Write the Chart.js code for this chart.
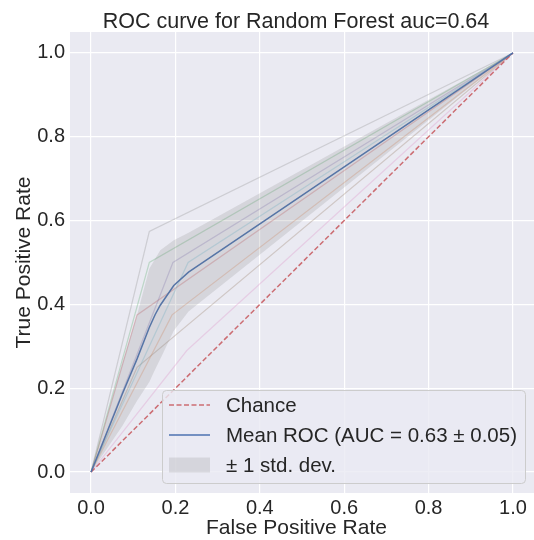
<!DOCTYPE html>
<html>
<head>
<meta charset="utf-8">
<script src="https://cdn.jsdelivr.net/npm/chart.js@4.4.1/dist/chart.umd.min.js"></script>
<style>
  html, body { margin: 0; padding: 0; background: #ffffff; }
  #roc { display: block; }
</style>
</head>
<body>
<canvas id="roc" width="534" height="540"></canvas>
<script>
// Dados
const tituloGrafico = 'ROC curve for Random Forest auc=0.64';
const tituloX = 'False Positive Rate';
const tituloY = 'True Positive Rate';
const tickVals = [0, 0.2, 0.4, 0.6, 0.8, 1.0];

// cada fold: (0,0) -> ponto de quebra -> (1,1)
const foldKinkFpr = [0.138, 0.138, 0.194, 0.230, 0.109, 0.192, 0.109, 0.227];
const foldKinkTpr = [0.574, 0.500, 0.500, 0.500, 0.375, 0.375, 0.250, 0.290];

const chanceFpr = [0, 1];
const chanceTpr = [0, 1];

const meanFpr = [0, 0.074, 0.109, 0.138, 0.152, 0.164, 0.196, 0.231, 1];
const meanTpr = [0, 0.186, 0.270, 0.345, 0.376, 0.398, 0.445, 0.477, 1];
const tprUpper = [0, 0.260, 0.375, 0.485, 0.509, 0.529, 0.553, 0.571, 1];
const tprLower = [0, 0.110, 0.170, 0.215, 0.245, 0.270, 0.337, 0.383, 1];

const labelChance = 'Chance';
const labelMean = 'Mean ROC (AUC = 0.63 \u00b1 0.05)';
const labelStd = '\u00b1 1 std. dev.';

// paleta seaborn "deep" com alpha 0.3 para os folds
const coresFold = [
    'rgba(140,140,140,0.3)', 'rgba(85,168,104,0.3)', 'rgba(129,114,179,0.3)', 'rgba(100,181,205,0.3)',
    'rgba(196,78,82,0.3)', 'rgba(221,132,82,0.3)', 'rgba(147,120,96,0.3)', 'rgba(218,139,195,0.3)'
];

const FONTE = "'Liberation Sans', Arial, sans-serif";
const TEXTO = '#262626';

function pontos(xs, ys) {
    return xs.map((x, i) => ({ x: x, y: ys[i] }));
}

const datasets = [];

// banda +-1 desvio (superior preenche até a inferior)
datasets.push({
    label: labelStd,
    data: pontos(meanFpr, tprUpper),
    borderWidth: 0,
    pointRadius: 0,
    backgroundColor: 'rgba(128,128,128,0.2)',
    fill: 1,
    order: 0
});
datasets.push({
    label: 'lower',
    data: pontos(meanFpr, tprLower),
    borderWidth: 0,
    pointRadius: 0,
    fill: false,
    order: 0
});
datasets.push({
    label: labelMean,
    data: pontos(meanFpr, meanTpr),
    borderColor: '#4C72B0',
    borderWidth: 1.5,
    pointRadius: 0,
    fill: false,
    order: 1
});
datasets.push({
    label: labelChance,
    data: pontos(chanceFpr, chanceTpr),
    borderColor: 'rgba(196,78,82,0.8)',
    borderWidth: 1.5,
    borderDash: [5, 2.5],
    pointRadius: 0,
    fill: false,
    order: 2
});
foldKinkFpr.forEach((fx, i) => {
    datasets.push({
        label: 'fold ' + i,
        data: pontos([0, fx, 1], [0, foldKinkTpr[i], 1]),
        borderColor: coresFold[i],
        borderWidth: 1.2,
        pointRadius: 0,
        fill: false,
        order: 3
    });
});

// fundo cinza-azulado da área do gráfico (estilo seaborn darkgrid) + títulos
const fundoPlugin = {
    id: 'fundo',
    beforeDraw(chart) {
        const { ctx, chartArea: a } = chart;
        ctx.save();
        ctx.fillStyle = '#EAEAF2';
        ctx.fillRect(a.left, a.top, a.right - a.left, a.bottom - a.top);
        ctx.fillStyle = TEXTO;
        ctx.textAlign = 'center';
        ctx.textBaseline = 'alphabetic';
        ctx.font = '21.5px ' + FONTE;
        ctx.fillText(tituloGrafico, 296, 28);
        ctx.font = '21px ' + FONTE;
        ctx.fillText(tituloX, 296.5, 534);
        ctx.restore();
    }
};

// legenda desenhada dentro da área, canto inferior direito
const legendaPlugin = {
    id: 'legendaInterna',
    afterDraw(chart) {
        const ctx = chart.ctx;
        const x0 = 162, y0 = 390, w = 363, h = 93, r = 4;
        ctx.save();
        ctx.beginPath();
        ctx.roundRect(x0 + 0.5, y0 + 0.5, w, h, r);
        ctx.fillStyle = 'rgba(234,234,242,0.8)';
        ctx.fill();
        ctx.strokeStyle = '#cccccc';
        ctx.lineWidth = 1;
        ctx.stroke();

        const itens = [
            { ds: datasets[3], tipo: 'linha' },
            { ds: datasets[2], tipo: 'linha' },
            { ds: datasets[0], tipo: 'caixa' }
        ];
        ctx.font = '20.5px ' + FONTE;
        ctx.textBaseline = 'middle';
        itens.forEach((it, i) => {
            const yc = 405 + i * 30;
            if (it.tipo === 'linha') {
                ctx.beginPath();
                ctx.strokeStyle = it.ds.borderColor;
                ctx.lineWidth = it.ds.borderWidth;
                ctx.setLineDash(it.ds.borderDash || []);
                ctx.moveTo(169, yc);
                ctx.lineTo(210, yc);
                ctx.stroke();
                ctx.setLineDash([]);
            } else {
                ctx.fillStyle = it.ds.backgroundColor;
                ctx.fillRect(169, yc - 7.5, 41, 15);
            }
            ctx.fillStyle = TEXTO;
            ctx.fillText(it.ds.label, 226, yc + 1);
        });
        ctx.restore();
    }
};

function eixo(largura, altura) {
    return {
        type: 'linear',
        min: -0.05,
        max: 1.05,
        border: { display: false },
        grid: { color: '#ffffff', lineWidth: 1.2, drawTicks: false },
        ticks: {
            color: TEXTO,
            font: { family: FONTE, size: 20 },
            padding: 5,
            callback: v => v.toFixed(1)
        },
        afterBuildTicks(scale) {
            scale.ticks = tickVals.map(v => ({ value: v }));
        },
        afterFit(scale) {
            if (largura) scale.width = largura;
            if (altura) scale.height = altura;
        }
    };
}

const escalaX = eixo(null, 47);
escalaX.ticks.padding = 3;
const escalaY = eixo(70, null);
escalaY.title = {
    display: true,
    text: tituloY,
    color: TEXTO,
    font: { family: FONTE, size: 21 },
    padding: { top: 12, bottom: 0 }
};

new Chart(document.getElementById('roc'), {
    type: 'line',
    data: { datasets: datasets },
    options: {
        responsive: false,
        animation: false,
        devicePixelRatio: 1,
        layout: { padding: { left: 0, right: 0, top: 32, bottom: 0 } },
        elements: { line: { tension: 0 } },
        plugins: {
            legend: { display: false },
            tooltip: { enabled: false },
            title: { display: false }
        },
        scales: { x: escalaX, y: escalaY }
    },
    plugins: [fundoPlugin, legendaPlugin]
});
</script>
</body>
</html>
